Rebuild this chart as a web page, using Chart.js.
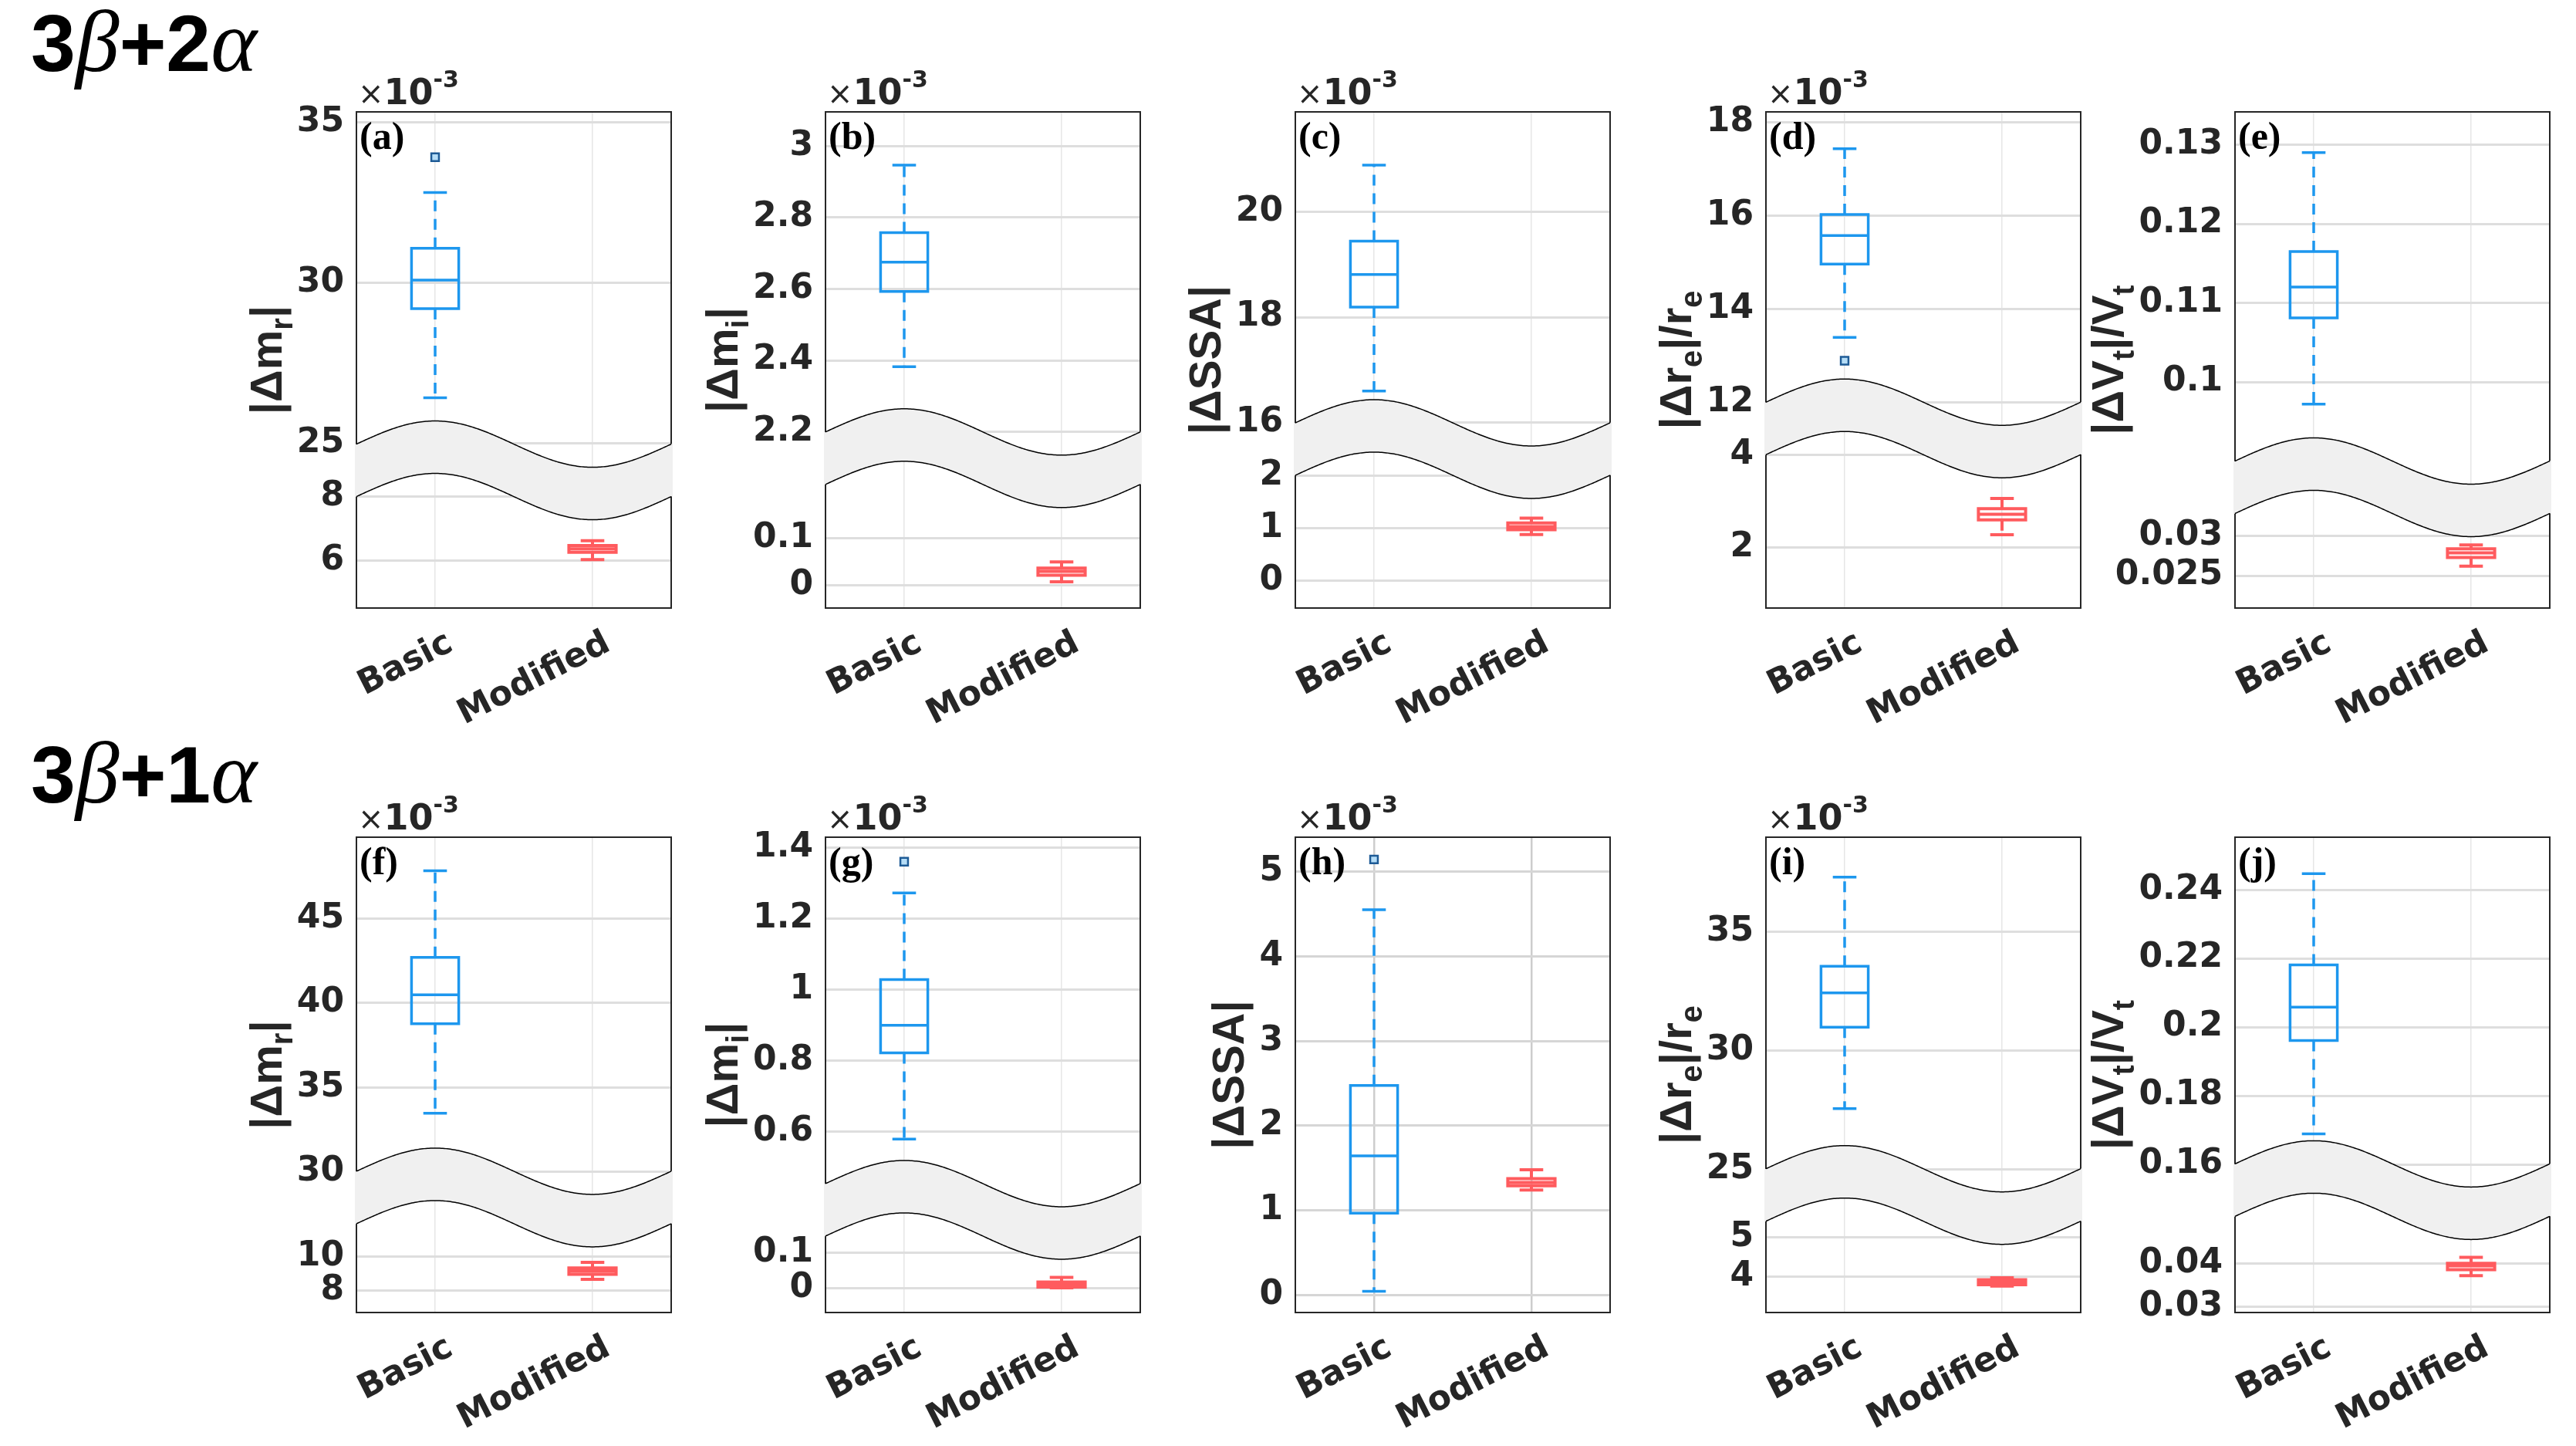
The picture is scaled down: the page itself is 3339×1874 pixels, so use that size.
<!DOCTYPE html>
<html>
<head>
<meta charset="utf-8">
<script src="https://cdn.jsdelivr.net/npm/chart.js@4"></script>
<style>
  body { margin: 0; background: #fff; width: 3339px; height: 1874px; position: relative; overflow: hidden; }
  canvas { position: absolute; }
  .ttl { position: absolute; left: 40px; font: bold 104px "Liberation Sans", Arial, sans-serif; line-height: 1; white-space: nowrap; color: #000; }
  .ttl i { font-family: "Liberation Serif", "Times New Roman", serif; font-weight: normal; font-size: 114px; line-height: 0; }
</style>
</head>
<body>
<div class="ttl" style="top:4px">3<i>β</i>+2<i>α</i></div>
<div class="ttl" style="top:952px">3<i>β</i>+1<i>α</i></div>
<script>
const categories = ["Basic", "Modified"];

// box stats are [min, q1, median, q3, max]
const basicA = [26.43, 29.2, 30.09, 31.08, 32.81];
const modifiedA = [6.03, 6.26, 6.37, 6.47, 6.62];
const outliersA = [33.91];
const upperTicksA = [25, 30, 35];
const lowerTicksA = [6, 8];

const basicB = [2.382, 2.593, 2.675, 2.758, 2.947];
const modifiedB = [0.008, 0.022, 0.030, 0.037, 0.05];
const upperTicksB = [2.2, 2.4, 2.6, 2.8, 3];
const lowerTicksB = [0, 0.1];

const basicC = [16.6, 18.19, 18.81, 19.44, 20.88];
const modifiedC = [0.88, 0.97, 1.03, 1.1, 1.19];
const upperTicksC = [16, 18, 20];
const lowerTicksC = [0, 1, 2];

const basicD = [13.39, 14.96, 15.57, 16.02, 17.43];
const modifiedD = [2.28, 2.6, 2.72, 2.84, 3.06];
const outliersD = [12.89];
const upperTicksD = [12, 14, 16, 18];
const lowerTicksD = [2, 4];

const basicE = [0.0972, 0.1081, 0.112, 0.1165, 0.129];
const modifiedE = [0.0262, 0.0273, 0.0279, 0.0284, 0.0289];
const upperTicksE = [0.1, 0.11, 0.12, 0.13];
const lowerTicksE = [0.025, 0.03];

const basicF = [33.47, 38.77, 40.49, 42.7, 47.84];
const modifiedF = [8.66, 8.96, 9.15, 9.34, 9.67];
const upperTicksF = [30, 35, 40, 45];
const lowerTicksF = [8, 10];

const basicG = [0.579, 0.822, 0.90, 1.0285, 1.273];
const modifiedG = [0.001, 0.003, 0.009, 0.017, 0.030];
const outliersG = [1.361];
const upperTicksG = [0.6, 0.8, 1, 1.2, 1.4];
const lowerTicksG = [0, 0.1];

const basicH = [0.044, 0.968, 1.643, 2.476, 4.554];
const modifiedH = [1.24, 1.29, 1.33, 1.375, 1.479];
const outliersH = [5.147];
const ticksH = [0, 1, 2, 3, 4, 5];

const basicI = [27.56, 30.99, 32.43, 33.55, 37.31];
const modifiedI = [3.76, 3.79, 3.86, 3.92, 3.97];
const upperTicksI = [25, 30, 35];
const lowerTicksI = [4, 5];

const basicJ = [0.1689, 0.1961, 0.2058, 0.2181, 0.2447];
const modifiedJ = [0.0372, 0.0386, 0.0395, 0.0401, 0.0415];
const upperTicksJ = [0.16, 0.18, 0.2, 0.22, 0.24];
const lowerTicksJ = [0.03, 0.04];

const panels = [
  { letter: "a", row: 0, col: 0, ylabel: "|Δm_r|", exp: true, basic: basicA, modified: modifiedA, outliers: outliersA,
    upper: { min: 24.17, max: 35.32, ticks: upperTicksA }, lower: { min: 4.51, max: 8.83, ticks: lowerTicksA }, split: 0.7225 },
  { letter: "b", row: 0, col: 1, ylabel: "|Δm_i|", exp: true, basic: basicB, modified: modifiedB, outliers: [],
    upper: { min: 2.126, max: 3.096, ticks: upperTicksB }, lower: { min: -0.048, max: 0.271, ticks: lowerTicksB }, split: 0.698 },
  { letter: "c", row: 0, col: 2, ylabel: "|ΔSSA|", exp: true, basic: basicC, modified: modifiedC, outliers: [],
    upper: { min: 15.50, max: 21.89, ticks: upperTicksC }, lower: { min: -0.515, max: 2.50, ticks: lowerTicksC }, split: 0.6796 },
  { letter: "d", row: 0, col: 3, ylabel: "|Δr_e|/r_e", exp: true, basic: basicD, modified: modifiedD, outliers: outliersD,
    upper: { min: 11.44, max: 18.22, ticks: upperTicksD }, lower: { min: 0.70, max: 4.57, ticks: lowerTicksD }, split: 0.638 },
  { letter: "e", row: 0, col: 4, ylabel: "|ΔV_t|/V_t", exp: false, basic: basicE, modified: modifiedE, outliers: [],
    upper: { min: 0.08669, max: 0.13415, ticks: upperTicksE }, lower: { min: 0.02089, max: 0.03622, ticks: lowerTicksE }, split: 0.7566 },
  { letter: "f", row: 1, col: 0, ylabel: "|Δm_r|", exp: true, basic: basicF, modified: modifiedF, outliers: [],
    upper: { min: 28.47, max: 49.83, ticks: upperTicksF }, lower: { min: 6.685, max: 13.53, ticks: lowerTicksF }, split: 0.758 },
  { letter: "g", row: 1, col: 1, ylabel: "|Δm_i|", exp: true, basic: basicG, modified: modifiedG, outliers: outliersG,
    upper: { min: 0.3795, max: 1.430, ticks: upperTicksG }, lower: { min: -0.0688, max: 0.2208, ticks: lowerTicksG }, split: 0.784 },
  { letter: "h", row: 1, col: 2, ylabel: "|ΔSSA|", exp: true, basic: basicH, modified: modifiedH, outliers: outliersH,
    upper: { min: -0.207, max: 5.41, ticks: ticksH }, lower: null, split: 1, strongGrid: true },
  { letter: "i", row: 1, col: 3, ylabel: "|Δr_e|/r_e", exp: true, basic: basicI, modified: modifiedI, outliers: [],
    upper: { min: 23.92, max: 38.99, ticks: upperTicksI }, lower: { min: 3.082, max: 6.088, ticks: lowerTicksI }, split: 0.7527 },
  { letter: "j", row: 1, col: 4, ylabel: "|ΔV_t|/V_t", exp: false, basic: basicJ, modified: modifiedJ, outliers: [],
    upper: { min: 0.1525, max: 0.2553, ticks: upperTicksJ }, lower: { min: 0.0286, max: 0.0572, ticks: lowerTicksJ }, split: 0.7425 },
];

const colLeft = [462, 1070, 1679, 2289, 2897];
const rowTop = [145, 1085];
const rowH = [643, 616];
const plotW = 408;
const AXW = 270, PADT = 80, PADR = 30, XAXH = 210;

const BLUE = "#1D97EE", RED = "#FF5B5E", INK = "#262626";
const BW = 0.15, CW = 0.075;
const tickFont = { family: "DejaVu Sans", weight: "bold", size: 44 };
const fmt = v => String(parseFloat(Number(v).toFixed(4)));

function boxSets(s, xi, axis, color, outl, lw) {
  const [mn, q1, md, q3, mx] = s;
  const base = { type: "scatter", showLine: true, yAxisID: axis, borderColor: color, borderWidth: lw,
    pointRadius: 0, pointHoverRadius: 0, spanGaps: false, borderJoinStyle: "miter" };
  const sets = [
    { ...base, borderCapStyle: "square", data: [
      { x: xi - BW, y: q1 }, { x: xi + BW, y: q1 }, { x: xi + BW, y: q3 }, { x: xi - BW, y: q3 }, { x: xi - BW, y: q1 },
      { x: xi, y: null }, { x: xi - BW, y: md }, { x: xi + BW, y: md }] },
    { ...base, borderDash: [14, 10], data: [
      { x: xi, y: q3 }, { x: xi, y: mx }, { x: xi, y: null }, { x: xi, y: q1 }, { x: xi, y: mn }] },
    { ...base, data: [
      { x: xi - CW, y: mx }, { x: xi + CW, y: mx }, { x: xi, y: null }, { x: xi - CW, y: mn }, { x: xi + CW, y: mn }] },
  ];
  if (outl.length) {
    sets.push({ type: "scatter", yAxisID: axis, showLine: false, pointStyle: "rect", pointRadius: 7,
      pointBorderWidth: 2.5, pointBorderColor: "#1E5B96", pointBackgroundColor: "#B5DDF7",
      data: outl.map(v => ({ x: xi, y: v })) });
  }
  return sets;
}

function yScale(r, weight, stackW, gridColor) {
  return {
    type: "linear", position: "left", min: r.min, max: r.max, bounds: "data",
    stack: "brk", stackWeight: stackW, weight: weight,
    afterBuildTicks: s => { s.ticks = r.ticks.map(v => ({ value: v })); },
    afterFit: s => { s.width = AXW; },
    ticks: { callback: v => fmt(v), font: tickFont, color: INK, padding: 16, autoSkip: false },
    grid: { color: gridColor, lineWidth: 3, drawTicks: false },
    border: { display: false },
  };
}

function drawYLabel(ctx, text, cx, cy) {
  const parts = [];
  for (let i = 0; i < text.length; i++) {
    if (text[i] === "_") parts.push({ t: text[++i], sub: true });
    else parts.push({ t: text[i], sub: false });
  }
  const mainF = 'bold 58px "Liberation Sans", Arial, sans-serif';
  const subF = 'bold 40px "Liberation Sans", Arial, sans-serif';
  let len = 0;
  for (const q of parts) { ctx.font = q.sub ? subF : mainF; q.w = ctx.measureText(q.t).width; len += q.w; }
  ctx.save();
  ctx.translate(cx, cy);
  ctx.rotate(-Math.PI / 2);
  ctx.fillStyle = INK;
  ctx.textBaseline = "alphabetic";
  let x = -len / 2;
  for (const q of parts) { ctx.font = q.sub ? subF : mainF; ctx.fillText(q.t, x, q.sub ? 14 : 0); x += q.w; }
  ctx.restore();
}

function decoPlugin(p) {
  return {
    id: "deco",
    beforeDatasetsDraw(chart) {
      const { ctx, chartArea: a } = chart;
      ctx.save();
      ctx.strokeStyle = INK;
      ctx.lineWidth = 2;
      ctx.strokeRect(a.left, a.top, a.width, a.height);
      if (p.lower) {
        const yc = chart.scales.y.bottom;
        const x0 = chart.scales.x.getPixelForValue(0), x1 = chart.scales.x.getPixelForValue(1);
        const wave = x => -30 * Math.cos(Math.PI * (x - x0) / (x1 - x0));
        const H = 34;
        ctx.beginPath();
        for (let x = a.left - 2; x <= a.right + 2; x += 2) ctx.lineTo(x, yc - H + wave(x));
        for (let x = a.right + 2; x >= a.left - 2; x -= 2) ctx.lineTo(x, yc + H + wave(x));
        ctx.closePath();
        ctx.fillStyle = "#f0f0f0";
        ctx.fill();
        ctx.strokeStyle = "#000";
        ctx.lineWidth = 1.5;
        for (const off of [-H, H]) {
          ctx.beginPath();
          for (let x = a.left; x <= a.right; x += 2) ctx.lineTo(x, yc + off + wave(x));
          ctx.stroke();
        }
      }
      ctx.restore();
    },
    afterDraw(chart) {
      const { ctx, chartArea: a } = chart;
      ctx.save();
      ctx.fillStyle = "#000";
      ctx.textBaseline = "alphabetic";
      ctx.textAlign = "left";
      ctx.font = 'bold 50px "Liberation Serif", "Times New Roman", serif';
      ctx.fillText("(" + p.letter + ")", a.left + 4, a.top + 48);
      ctx.fillStyle = INK;
      if (p.exp) {
        let x = a.left + 2;
        const yb = a.top - 10;
        ctx.font = '40px "DejaVu Sans", sans-serif';
        ctx.fillText("×", x, yb); x += ctx.measureText("×").width;
        ctx.font = 'bold 46px "DejaVu Sans", sans-serif';
        ctx.fillText("10", x, yb); x += ctx.measureText("10").width;
        ctx.font = 'bold 30px "DejaVu Sans", sans-serif';
        ctx.fillText("-3", x, yb - 22);
      }
      ctx.font = 'bold 44px "DejaVu Sans", sans-serif';
      const widest = Math.max(...p.upper.ticks.map(v => ctx.measureText(fmt(v)).width));
      drawYLabel(ctx, p.ylabel, a.left - 16 - widest - 20, (a.top + a.bottom) / 2);
      ctx.restore();
    },
  };
}

function makeChart(p) {
  const left = colLeft[p.col], top = rowTop[p.row], h = rowH[p.row];
  const cv = document.createElement("canvas");
  const W = AXW + plotW + PADR, H = PADT + h + XAXH;
  cv.width = W; cv.height = H;
  cv.style.left = (left - AXW) + "px";
  cv.style.top = (top - PADT) + "px";
  document.body.appendChild(cv);

  const lowerAxis = p.lower ? "y2" : "y";
  const datasets = [
    ...boxSets(p.basic, 0, "y", BLUE, p.outliers, 3.5),
    ...boxSets(p.modified, 1, lowerAxis, RED, [], 4),
  ];
  const gridColor = p.strongGrid ? "#d6d6d6" : "#dedede";
  const scales = {
    x: {
      type: "linear", min: -0.5, max: 1.5, bounds: "data",
      afterBuildTicks: s => { s.ticks = [{ value: 0 }, { value: 1 }]; },
      afterFit: s => { s.height = XAXH; },
      ticks: { callback: v => categories[v], font: tickFont, color: INK, minRotation: 27, maxRotation: 27,
        padding: 20, labelOffset: 20, autoSkip: false },
      grid: { color: p.strongGrid ? "#cdcdcd" : "#e6e6e6", lineWidth: p.strongGrid ? 2.5 : 1.5, drawTicks: false },
      border: { display: false },
    },
    y: yScale(p.upper, 2, p.split, gridColor),
  };
  if (p.lower) scales.y2 = yScale(p.lower, 1, 1 - p.split, gridColor);
  if (!p.lower) { delete scales.y.stack; }

  new Chart(cv, {
    data: { datasets },
    options: {
      responsive: false,
      animation: false,
      devicePixelRatio: 1,
      events: [],
      layout: { padding: { top: PADT, right: PADR, left: 0, bottom: 0 } },
      plugins: { legend: { display: false }, tooltip: { enabled: false } },
      scales,
    },
    plugins: [decoPlugin(p)],
  });
}

panels.forEach(makeChart);
</script>
</body>
</html>
